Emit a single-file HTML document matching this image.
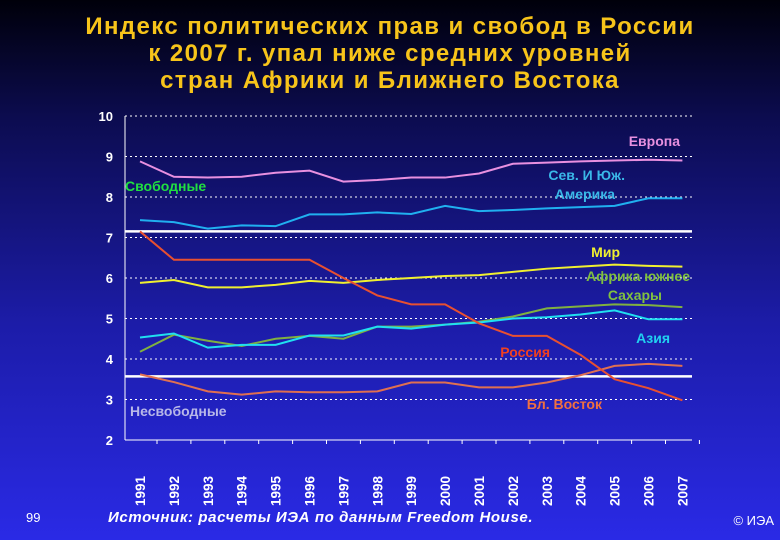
<!DOCTYPE html>
<html><head><meta charset="utf-8"><style>
body{margin:0;width:780px;height:540px;overflow:hidden;background:linear-gradient(180deg,#00000a 0%,#0c0c50 22%,#1c1ca8 60%,#2a2ae6 100%);font-family:"Liberation Sans","DejaVu Sans",sans-serif;}
#title{position:absolute;left:0;top:13px;width:780px;text-align:center;color:#f7c41a;font-weight:bold;font-size:24px;line-height:27px;letter-spacing:1.4px;}
</style></head><body>
<div id="title"><div>Индекс политических прав и свобод в России</div><div>к 2007 г. упал ниже средних уровней</div><div>стран Африки и Ближнего Востока</div></div>
<svg id="chart" width="780" height="540" style="position:absolute;left:0;top:0" font-family="Liberation Sans, DejaVu Sans, sans-serif"></svg>
<script>
const years=["1991","1992","1993","1994","1995","1996","1997","1998","1999","2000","2001","2002","2003","2004","2005","2006","2007"];
const yTicks=[2,3,4,5,6,7,8,9,10];
const europe=[8.88,8.5,8.48,8.5,8.6,8.65,8.38,8.42,8.48,8.48,8.58,8.82,8.85,8.88,8.9,8.92,8.9];
const americas=[7.43,7.38,7.22,7.3,7.28,7.57,7.57,7.62,7.58,7.78,7.65,7.68,7.72,7.75,7.78,7.97,7.97];
const russia=[7.15,6.45,6.45,6.45,6.45,6.45,6.0,5.57,5.35,5.35,4.88,4.57,4.57,4.1,3.5,3.28,2.98];
const world=[5.88,5.95,5.77,5.77,5.83,5.93,5.88,5.95,6.0,6.05,6.07,6.15,6.23,6.28,6.33,6.3,6.28];
const africa=[4.18,4.6,4.45,4.32,4.5,4.57,4.5,4.8,4.8,4.85,4.92,5.05,5.25,5.3,5.35,5.33,5.28];
const asia=[4.53,4.63,4.28,4.35,4.35,4.58,4.58,4.8,4.75,4.85,4.9,5.0,5.03,5.1,5.2,4.98,4.98];
const mideast=[3.62,3.43,3.2,3.12,3.2,3.18,3.18,3.2,3.42,3.42,3.3,3.3,3.42,3.6,3.83,3.88,3.83];
const thresholds=[7.15,3.57];
const NS="http://www.w3.org/2000/svg";
const svg=document.getElementById('chart');
const X=i=>140+i*33.9, Y=v=>440-(v-2)*40.5;
function mk(t,a,p){const e=document.createElementNS(NS,t);for(const k in a)e.setAttribute(k,a[k]);(p||svg).appendChild(e);return e;}
yTicks.forEach(v=>{
 if(v>2){const g=mk('line',{x1:125,x2:692,y1:Y(v),y2:Y(v),stroke:'#fff','stroke-width':1,'stroke-dasharray':'2,3'});
 
 }
 const t=mk('text',{x:113,y:Y(v)+5,'text-anchor':'end',fill:'#fff','font-size':13,'font-weight':'bold'});t.textContent=v;
 
 
});
const ax=mk('line',{x1:125,x2:125,y1:Y(10),y2:Y(2),stroke:'#fff'});


const bx=mk('line',{x1:125,x2:692,y1:Y(2),y2:Y(2),stroke:'#fff'});


years.forEach((y,i)=>{
 const tk=mk('line',{x1:X(i)+17,x2:X(i)+17,y1:Y(2),y2:Y(2)+4,stroke:'#fff'});
 
 
 const t=mk('text',{transform:`translate(${X(i)+5},${506}) rotate(-90)`,fill:'#fff','font-size':13.5,'font-weight':'bold'});t.textContent=y;
 
 
});
thresholds.forEach((v,i)=>{const l=mk('line',{x1:125,x2:692,y1:Y(v),y2:Y(v),stroke:'#fff','stroke-width':2.5});
 
 });
const series=[[europe,'#e890e0','europe'],[americas,'#20b0f0','americas'],[world,'#f0f030','world'],[africa,'#80b040','africa'],[asia,'#20e0f0','asia'],[mideast,'#e07050','mideast'],[russia,'#e85030','russia']];
series.forEach(([d,c,n])=>{const p=mk('polyline',{points:d.map((v,i)=>X(i)+','+Y(v)).join(' '),fill:'none',stroke:c,'stroke-width':2});
 
 });
const labels=[['Европа',680,146,'#e890e0','end'],['Сев. И Юж.',625,180,'#3ab8e8','end'],['Америка',615,199,'#3ab8e8','end'],['Свободные',125,191,'#20e040','start'],['Мир',620,257,'#f0f030','end'],['Африка южнее',690,281,'#80c040','end'],['Сахары',662,300,'#80c040','end'],['Азия',670,343,'#20d0f0','end'],['Россия',550,357,'#f04020','end'],['Бл. Восток',602,409,'#f07040','end'],['Несвободные',130,416,'#b8b8e8','start']];
labels.forEach(([s,x,y,c,a])=>{const t=mk('text',{x,y,fill:c,'font-size':14,'font-weight':'bold','text-anchor':a});t.textContent=s;
 
 });
const f1=mk('text',{x:26,y:522,fill:'#fff','font-size':13});f1.textContent='99';


const f2=mk('text',{x:108,y:522,fill:'#fff','font-size':15,'font-style':'italic','font-weight':'bold','letter-spacing':0.6});f2.textContent='Источник: расчеты ИЭА по данным Freedom House.';


const f3=mk('text',{x:774,y:525,fill:'#fff','font-size':13,'text-anchor':'end'});f3.textContent='© ИЭА';


</script>
</body></html>
